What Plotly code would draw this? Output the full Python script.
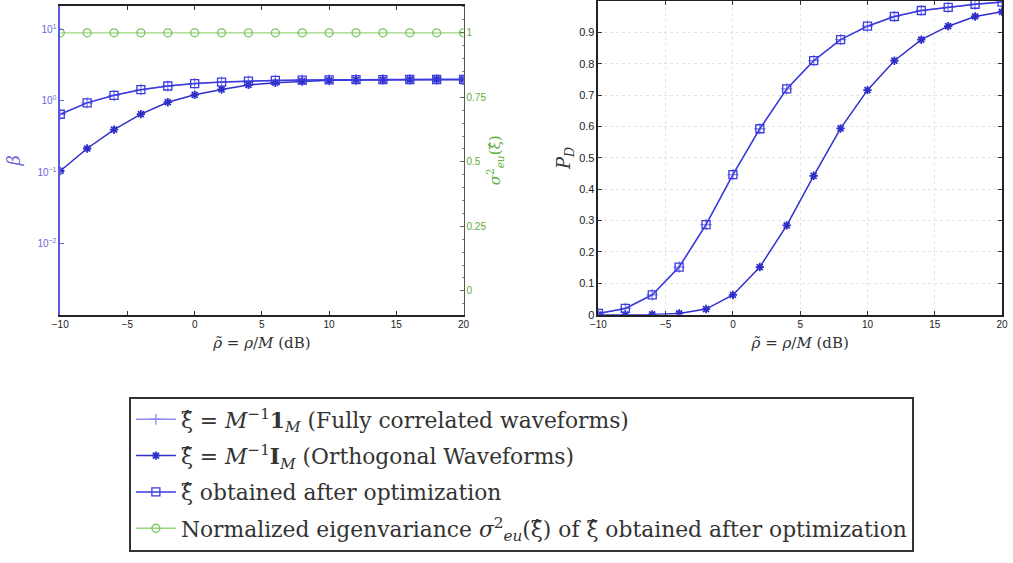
import plotly.graph_objects as go

# ---------------- data ----------------
rho_db = [-10, -8, -6, -4, -2, 0, 2, 4, 6, 8, 10, 12, 14, 16, 18, 20]

beta_full = [0.65, 0.94, 1.20, 1.44, 1.62, 1.75, 1.84, 1.90, 1.94, 1.96, 1.98, 1.99, 1.99, 2.00, 2.00, 2.00]
beta_orth = [0.104, 0.215, 0.395, 0.653, 0.96, 1.22, 1.45, 1.68, 1.80, 1.89, 1.95, 1.97, 1.98, 1.99, 2.00, 2.00]
beta_opt = [0.65, 0.94, 1.20, 1.44, 1.62, 1.75, 1.84, 1.90, 1.94, 1.96, 1.98, 1.99, 1.99, 2.00, 2.00, 2.00]
eigvar_opt = [1, 1, 1, 1, 1, 1, 1, 1, 1, 1, 1, 1, 1, 1, 1, 1]

pd_full = [0.004, 0.02, 0.063, 0.152, 0.287, 0.447, 0.593, 0.72, 0.81, 0.877, 0.92, 0.951, 0.97, 0.98, 0.99, 0.997]
pd_orth = [0.0, 0.0005, 0.001, 0.004, 0.018, 0.063, 0.152, 0.285, 0.443, 0.594, 0.716, 0.81, 0.877, 0.92, 0.951, 0.966]
pd_opt = [0.004, 0.02, 0.063, 0.152, 0.287, 0.447, 0.593, 0.72, 0.81, 0.877, 0.92, 0.951, 0.97, 0.98, 0.99, 0.997]

x_ticks = [-10, -5, 0, 5, 10, 15, 20]
beta_tickvals = [0.01, 0.1, 1, 10]
beta_ticktext = ["10<sup>−2</sup>", "10<sup>−1</sup>", "10<sup>0</sup>", "10<sup>1</sup>"]
eig_tickvals = [0, 0.25, 0.5, 0.75, 1]
eig_ticktext = ["0", "0.25", "0.5", "0.75", "1"]
pd_tickvals = [0, 0.1, 0.2, 0.3, 0.4, 0.5, 0.6, 0.7, 0.8, 0.9, 1]
pd_ticktext = ["0", "0.1", "0.2", "0.3", "0.4", "0.5", "0.6", "0.7", "0.8", "0.9", "1"]

names = [
    "ξ̂ = <i>M</i><sup>−1</sup><b>1</b><sub><i>M</i></sub> (Fully correlated waveforms)",
    "ξ̂ = <i>M</i><sup>−1</sup><b>I</b><sub><i>M</i></sub> (Orthogonal Waveforms)",
    "ξ̂ obtained after optimization",
    "Normalized eigenvariance <i>σ</i><sup>2</sup><sub><i>eu</i></sub>(ξ̂) of ξ̂ obtained after optimization",
]

# ---------------- styles ----------------
C_FULL = "#8c8cf0"
C_ORTH = "#2f2fc8"
C_OPT = "#3a3ae0"
C_GREEN = "#74c656"
SERIF = "DejaVu Serif"
SANS = "Liberation Sans"

fig = go.Figure()

def add_series(x, y, xa, ya, kind, show):
    if kind == 0:
        style = dict(line=dict(color=C_FULL, width=1.3),
                     marker=dict(symbol="cross-thin", size=8, line=dict(color=C_FULL, width=1.3)))
    elif kind == 1:
        style = dict(line=dict(color=C_ORTH, width=1.5),
                     marker=dict(symbol="asterisk-open", size=7, color=C_ORTH, line=dict(color=C_ORTH, width=1.8)))
    elif kind == 2:
        style = dict(line=dict(color=C_OPT, width=1.5),
                     marker=dict(symbol="square-open", size=8, color=C_OPT, line=dict(color=C_OPT, width=1.3)))
    else:
        style = dict(line=dict(color="#9ad67e", width=1.3),
                     marker=dict(symbol="circle-open", size=8, color=C_GREEN, line=dict(color=C_GREEN, width=1.3)))
    fig.add_trace(go.Scatter(x=x, y=y, xaxis=xa, yaxis=ya, mode="lines+markers",
                             name=names[kind], legendgroup="g%d" % kind,
                             showlegend=show, **style))

add_series(rho_db, beta_full, "x", "y", 0, True)
add_series(rho_db, beta_orth, "x", "y", 1, True)
add_series(rho_db, beta_opt, "x", "y", 2, True)
add_series(rho_db, eigvar_opt, "x", "y2", 3, True)
add_series(rho_db, pd_full, "x2", "y3", 0, False)
add_series(rho_db, pd_orth, "x2", "y3", 1, False)
add_series(rho_db, pd_opt, "x2", "y3", 2, False)

xtitle = "<i>ρ̃</i> = <i>ρ</i>/<i>M</i> (dB)"
tickfont = dict(family=SANS, size=10, color="#222")

fig.update_layout(
    width=1013, height=563,
    margin=dict(l=0, r=0, t=0, b=0),
    paper_bgcolor="white", plot_bgcolor="white",
    showlegend=True,
    legend=dict(x=0.121, y=0.288, xanchor="left", yanchor="top",
                bordercolor="#333", borderwidth=2, bgcolor="white",
                font=dict(family=SERIF, size=21.8, color="#333"),
                tracegroupgap=5, itemwidth=40),
    xaxis=dict(domain=[0.0523, 0.456], anchor="y", range=[-10, 20], tickvals=x_ticks,
               ticks="inside", ticklen=4, tickcolor="#333", showline=True, linecolor="#222",
               linewidth=1.5, mirror="ticks", showgrid=False, zeroline=False, tickfont=tickfont,
               title=dict(text=xtitle, font=dict(family=SERIF, size=15, color="#333"), standoff=8)),
    yaxis=dict(domain=[0.435, 0.9893], anchor="x", type="log", range=[-3.0, 1.333],
               tickvals=beta_tickvals, ticktext=beta_ticktext, ticks="inside", ticklen=4,
               tickcolor="#6a6ad8", showline=True, linecolor="#5a5ad8", linewidth=1.5,
               showgrid=False, zeroline=False,
               tickfont=dict(family=SANS, size=10, color="#6a6ad8"),
               title=dict(text="<i>β</i>", font=dict(family=SERIF, size=18, color="#6a6ad8"), standoff=12)),
    yaxis2=dict(overlaying="y", anchor="x", side="right", range=[-0.0925, 1.104],
                tickvals=eig_tickvals, ticktext=eig_ticktext, ticks="inside", ticklen=4,
                tickcolor="#666", showline=True, linecolor="#555", linewidth=1,
                showgrid=False, zeroline=False,
                minor=dict(dtick=0.05, ticklen=2, ticks="inside", tickcolor="#888"),
                tickfont=dict(family=SANS, size=10, color="#5cae3c"),
                title=dict(text="<i>σ</i><sup>2</sup><sub><i>eu</i></sub>(ξ̂)",
                           font=dict(family=SERIF, size=15, color="#5cae3c"), standoff=4)),
    xaxis2=dict(domain=[0.591, 0.995], anchor="y3", range=[-10, 20], tickvals=x_ticks,
                ticks="inside", ticklen=4, tickcolor="#333", showline=True, linecolor="#222",
                linewidth=1.5, mirror="ticks", showgrid=True, gridcolor="#e4e4e4", griddash="dot",
                zeroline=False, tickfont=tickfont,
                title=dict(text=xtitle, font=dict(family=SERIF, size=15, color="#333"), standoff=8)),
    yaxis3=dict(domain=[0.435, 0.998], anchor="x2", range=[0, 1], tickvals=pd_tickvals,
                ticktext=pd_ticktext, ticks="inside", ticklen=4, tickcolor="#333",
                showline=True, linecolor="#222", linewidth=1.5, mirror="ticks",
                showgrid=True, gridcolor="#e4e4e4", griddash="dot", zeroline=False,
                tickfont=dict(family=SANS, size=11, color="#222"),
                title=dict(text="<i>P</i><sub><i>D</i></sub>",
                           font=dict(family=SERIF, size=18, color="#333"), standoff=4)),
)

fig.write_html("out.html")
